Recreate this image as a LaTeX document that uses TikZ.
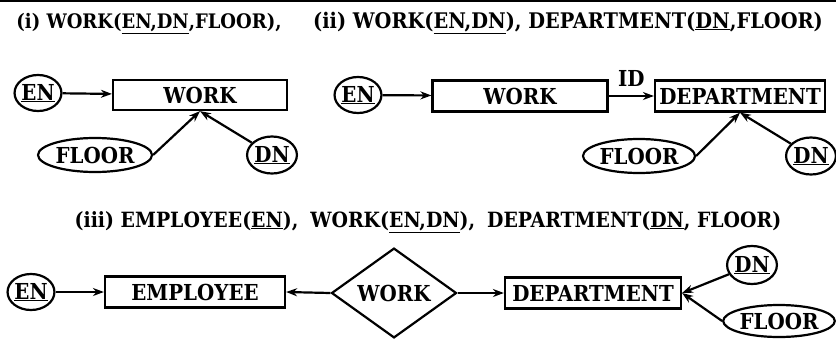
\documentclass[tikz,border=0pt]{standalone}
\usepackage{fontspec}
\setmainfont{DejaVu Serif Condensed}
\usetikzlibrary{shapes.geometric,arrows.meta}
\begin{document}
\begin{tikzpicture}[x=1pt,y=-1pt,
  every node/.style={font=\bfseries\fontsize{22}{24}\selectfont},
  ent/.style={draw, line width=2.2pt, inner sep=0pt},
  attr/.style={draw, ellipse, line width=2.2pt, inner sep=0pt},
  rel/.style={draw, diamond, line width=2.2pt, inner sep=0pt},
  arr/.style={line width=2.2pt, -{Stealth[length=11pt,width=8pt]}},
  ttl/.style={inner sep=0pt, anchor=base}]
\useasboundingbox (0,0) rectangle (836,338);
\coordinate (tl) at (0,1);
\coordinate (tr) at (836,1);
\draw[line width=2pt] (tl) -- (tr);
% titles
\node[ttl, font=\bfseries\fontsize{20}{22}\selectfont] (t1) at (149,28) {(i) WORK(\underline{EN,DN},FLOOR),};
\node[ttl, font=\bfseries\fontsize{21.5}{22}\selectfont] (t2) at (568,28) {(ii) WORK(\underline{EN,DN}), DEPARTMENT(\underline{DN},FLOOR)};
\node[ttl, font=\bfseries\fontsize{21}{22}\selectfont] (t3) at (428,227) {(iii) EMPLOYEE(\underline{EN}),\hspace{12pt}WORK(\underline{EN,DN}),\hspace{12pt}DEPARTMENT(\underline{DN}, FLOOR)};
% (i)
\node[attr, minimum width=46pt, minimum height=36pt] (en1) at (38,93) {\underline{EN}};
\node[ent, minimum width=174pt, minimum height=30pt] (work1) at (200,95) {WORK};
\node[attr, minimum width=114pt, minimum height=34pt] (floor1) at (95,155) {FLOOR};
\node[attr, minimum width=46pt, minimum height=37pt] (dn1) at (272,155) {\underline{DN}};
\draw[arr] (en1) -- (work1);
\draw[arr] (floor1.east) -- (work1.south);
\draw[arr] (dn1) -- (work1.south);
% (ii)
\node[attr, minimum width=46pt, minimum height=36pt] (en2) at (358,95) {\underline{EN}};
\node[ent, minimum width=175pt, minimum height=31pt] (work2) at (520,96) {WORK};
\node[ent, minimum width=170pt, minimum height=31pt] (dept2) at (740,96) {DEPARTMENT};
\node[attr, minimum width=112pt, minimum height=34pt] (floor2) at (639,156) {FLOOR};
\node[attr, minimum width=44pt, minimum height=37pt] (dn2) at (811,156) {\underline{DN}};
\draw[arr] (en2) -- (work2);
\draw[arr] (work2) -- node[anchor=south, inner sep=0pt, yshift=8pt] (id) {ID} (dept2);
\draw[arr] (floor2.east) -- (dept2.south);
\draw[arr] (dn2) -- (dept2.south);
% (iii)
\node[attr, minimum width=46pt, minimum height=36pt] (en3) at (31,292) {\underline{EN}};
\node[ent, minimum width=180pt, minimum height=31pt] (emp) at (195,292) {EMPLOYEE};
\node[rel, minimum width=125pt, minimum height=60pt] (work3) at (394,293) {WORK};
\node[ent, minimum width=176pt, minimum height=31pt] (dept3) at (593,293) {DEPARTMENT};
\node[attr, minimum width=46pt, minimum height=38pt] (dn3) at (752,265) {\underline{DN}};
\node[attr, minimum width=100pt, minimum height=32pt] (floor3) at (779,321) {FLOOR};
\draw[arr] (en3) -- (emp);
\draw[arr] (work3.west) -- (emp.east);
\draw[arr] (work3.east) -- (dept3.west);
\draw[arr] (dn3) -- (dept3.east);
\draw[arr] (floor3.west) -- (dept3.east);
\end{tikzpicture}
\end{document}
